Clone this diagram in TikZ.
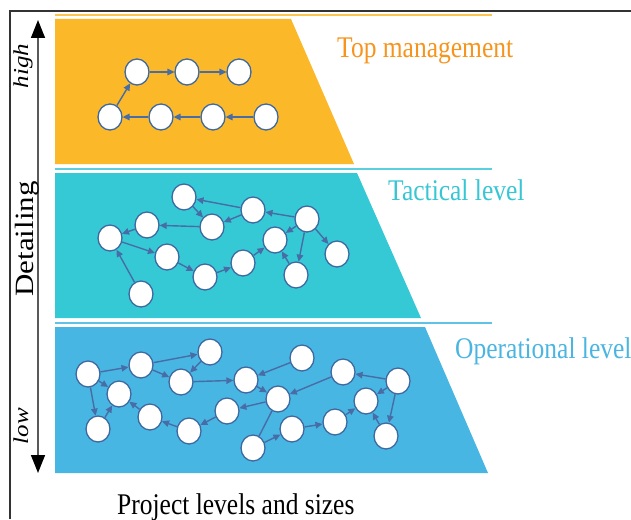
\documentclass[tikz,border=0pt]{standalone}
\usepackage{fontspec}
\setmainfont{Liberation Serif}
\usetikzlibrary{arrows.meta,shapes.geometric}
\definecolor{ylw}{RGB}{251,184,40}
\definecolor{ylwline}{RGB}{253,196,80}
\definecolor{cyn}{RGB}{52,201,213}
\definecolor{cynline}{RGB}{90,208,222}
\definecolor{blu}{RGB}{72,182,227}
\definecolor{bluline}{RGB}{95,195,232}
\definecolor{orangetxt}{RGB}{247,148,29}
\definecolor{tactxt}{RGB}{55,198,212}
\definecolor{optxt}{RGB}{74,181,225}
\definecolor{nodeblue}{RGB}{62,104,160}
\definecolor{arrblue}{RGB}{72,108,165}
\tikzset{
  nd/.style={ellipse, draw=nodeblue, fill=white, line width=1.3pt, minimum width=24pt, minimum height=26pt, inner sep=0pt},
  arr/.style={draw=arrblue, line width=1.4pt, -{Triangle[length=7pt,width=6.5pt]}},
  plainln/.style={draw=arrblue, line width=1.4pt},
  lbl/.style={inner sep=0pt, anchor=base west, font=\fontsize{30}{36}\selectfont},
  sidelbl/.style={inner sep=0pt, anchor=base, rotate=90, font=\fontsize{25}{30}\selectfont\itshape},
}
\newcommand{\sq}[1]{\scalebox{0.85}[1]{#1}}
\begin{document}
\begin{tikzpicture}[x=1pt,y=-1pt]
\useasboundingbox (0,0) rectangle (631,519);
% frame
\draw[line width=1.4pt, black!80] (10,519) -- (10,11) -- (631,11);
% band lines
\draw[ylwline, line width=1.5pt] (55,15) -- (492,15);
\draw[cynline, line width=1.5pt] (55,169) -- (492,169);
\draw[bluline, line width=1.5pt] (55,323) -- (492,323);
% trapezoids
\fill[ylw] (55,19) -- (291,19) -- (354,164) -- (55,164) -- cycle;
\fill[cyn] (55,173) -- (357,173) -- (421,318) -- (55,318) -- cycle;
\fill[blu] (55,327) -- (425,327) -- (488,473) -- (55,473) -- cycle;
% axis
\coordinate (axtop) at (38,20);
\coordinate (axbot) at (38,473);
\draw[black!65, line width=1.5pt, {Triangle[length=18pt,width=14pt,color=black]}-{Triangle[length=18pt,width=14pt,color=black]}] (axtop) -- (axbot);
\node[sidelbl] (high) at (28,66) {\scalebox{1}[0.85]{high}};
\node[sidelbl] (low) at (28,426) {\scalebox{1}[0.85]{low}};
\node[inner sep=0pt, anchor=base, rotate=90, font=\fontsize{31}{36}\selectfont] (det) at (33,239) {\scalebox{1}[0.85]{Detailing}};
% labels
\node[lbl, text=orangetxt] (ltop) at (337,57) {\sq{Top management}};
\node[lbl, text=tactxt] (ltac) at (388,200) {\sq{Tactical level}};
\node[lbl, text=optxt] (lop) at (455,358) {\sq{Operational level}};
\node[lbl] (lbot) at (117,514) {\sq{Project levels and sizes}};
% top management nodes
\node[nd] (t1) at (137,72) {};
\node[nd] (t2) at (187,72) {};
\node[nd] (t3) at (239,72) {};
\node[nd] (b1) at (110,117) {};
\node[nd] (b2) at (161,117) {};
\node[nd] (b3) at (213,117) {};
\node[nd] (b4) at (266,117) {};
\draw[arr] (b1) -- (t1);
\draw[arr] (t1) -- (t2);
\draw[arr] (t2) -- (t3);
\draw[arr] (b4) -- (b3);
\draw[arr] (b3) -- (b2);
\draw[arr] (b2) -- (b1);
% tactical nodes
\node[nd] (A) at (184,197) {};
\node[nd] (B) at (253,210) {};
\node[nd] (C) at (147,225) {};
\node[nd] (D) at (212,227) {};
\node[nd] (E) at (307,219) {};
\node[nd] (F) at (110,238) {};
\node[nd] (G) at (275,240) {};
\node[nd] (H) at (167,257) {};
\node[nd] (I) at (337,254) {};
\node[nd] (J) at (243,263) {};
\node[nd] (K) at (205,277) {};
\node[nd] (L) at (296,275) {};
\node[nd] (M) at (141,294) {};
\draw[arr] (B) -- (A);
\draw[arr] (A) -- (D);
\draw[arr] (B) -- (D);
\draw[arr] (D) -- (C);
\draw[arr] (E) -- (B);
\draw[arr] (E) -- (G);
\draw[arr] (E) -- (L);
\draw[arr] (E) -- (I);
\draw[arr] (C) -- (F);
\draw[arr] (F) -- (H);
\draw[arr] (M) -- (F);
\draw[arr] (H) -- (K);
\draw[arr] (K) -- (J);
\draw[arr] (J) -- (G);
\draw[arr] (L) -- (G);
% operational nodes
\node[nd] (oa) at (88,374) {};
\node[nd] (ob) at (141,365) {};
\node[nd] (oc) at (210,352) {};
\node[nd] (od) at (181,382) {};
\node[nd] (oe) at (119,394) {};
\node[nd] (of) at (98,429) {};
\node[nd] (og) at (150,417) {};
\node[nd] (oh) at (189,431) {};
\node[nd] (oi) at (227,411) {};
\node[nd] (oj) at (246,380) {};
\node[nd] (ok) at (302,358) {};
\node[nd] (ol) at (278,399) {};
\node[nd] (om) at (343,372) {};
\node[nd] (on) at (398,381) {};
\node[nd] (oo) at (366,401) {};
\node[nd] (op) at (292,429) {};
\node[nd] (oq) at (335,422) {};
\node[nd] (or) at (386,436) {};
\node[nd] (os) at (253,448) {};
\draw[arr] (oa) -- (ob);
\draw[arr] (ob) -- (oc);
\draw[arr] (oc) -- (od);
\draw[arr] (ob) -- (od);
\draw[arr] (oa) -- (oe);
\draw[arr] (oa) -- (of);
\draw[arr] (of) -- (oe);
\draw[arr] (og) -- (oe);
\draw[arr] (oh) -- (og);
\draw[arr] (oi) -- (oh);
\draw[arr] (ol) -- (oi);
\draw[arr] (od) -- (oj);
\draw[arr] (oj) -- (ol);
\draw[arr] (ok) -- (oj);
\draw[arr] (om) -- (ol);
\draw[plainln] (os) -- (ol);
\draw[arr] (os) -- (op);
\draw[arr] (op) -- (oq);
\draw[arr] (oq) -- (oo);
\draw[arr] (on) -- (om);
\draw[arr] (on) -- (oo);
\draw[arr] (on) -- (or);
\draw[arr] (or) -- (oo);
\end{tikzpicture}
\end{document}
